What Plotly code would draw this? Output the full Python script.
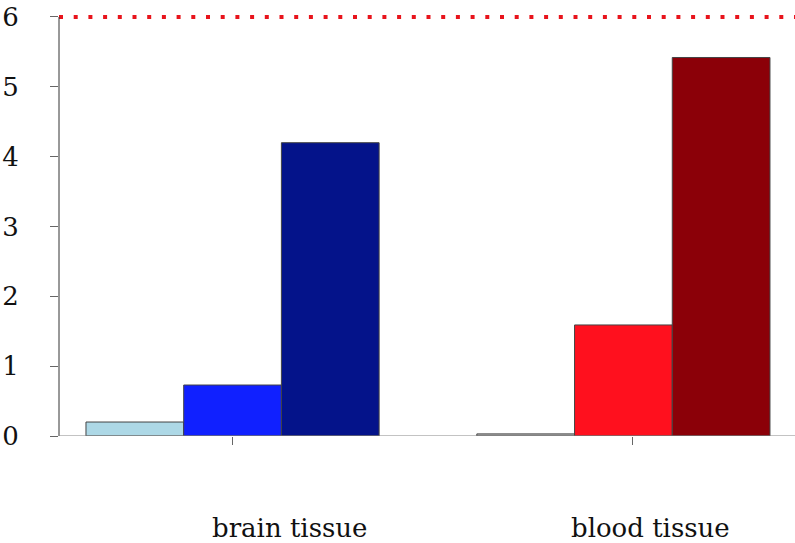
import plotly.graph_objects as go

groups = ["brain tissue", "blood tissue"]
group_pos = [0, 1]
tick_pos = [0, 1.024]
label_pos = [0.145, 1.07]
low = [0.20, 0.03]
mid = [0.73, 1.59]
high = [4.20, 5.42]
low_colors = ["#ADD8E6", "#B8B8B8"]
mid_colors = ["#1020FF", "#FF101E"]
high_colors = ["#04138A", "#8B0008"]
threshold = 6
y_ticks = [0, 1, 2, 3, 4, 5, 6]

FONT = "DejaVu Serif"

fig = go.Figure()
for vals, cols in [(low, low_colors), (mid, mid_colors), (high, high_colors)]:
    fig.add_trace(go.Bar(x=group_pos, y=vals, marker=dict(color=cols, line=dict(color="#444444", width=1)),
                         showlegend=False))

fig.add_shape(type="line", xref="paper", yref="y", x0=0, x1=1, y0=threshold, y1=threshold,
              line=dict(color="#E8141C", width=4, dash="4px,10.7px"))
fig.add_shape(type="line", xref="paper", yref="y", x0=0, x1=0, y0=0, y1=threshold,
              line=dict(color="#333333", width=1))
fig.add_shape(type="line", xref="paper", yref="y", x0=0, x1=1, y0=0, y1=0,
              line=dict(color="#888888", width=1.2))

for name, xp in zip(groups, label_pos):
    fig.add_annotation(x=xp, y=-0.216, xref="x", yref="paper", text=name, showarrow=False,
                       font=dict(family=FONT, size=26, color="#111111"), yanchor="middle")

fig.update_layout(
    width=795, height=543,
    margin=dict(l=59, r=0, t=10, b=107, autoexpand=False),
    paper_bgcolor="white", plot_bgcolor="white",
    barmode="group", bargap=0.25, bargroupgap=0,
    font=dict(family=FONT, size=26, color="#111111"),
    xaxis=dict(range=[-0.444, 1.439], tickvals=tick_pos, ticktext=["", ""], ticks="outside",
               ticklen=8, tickcolor="#666666", showgrid=False, zeroline=False, showline=False,
               automargin=False),
    yaxis=dict(range=[0, 6.1], tickvals=y_ticks, ticks="outside", ticklen=8, tickcolor="#666666",
               showgrid=False, zeroline=False, showline=False, ticklabelstandoff=26,
               automargin=False, tickfont=dict(family=FONT, size=26)),
)

fig.write_html("out.html", config={"displayModeBar": False},
               post_script="document.body.style.margin='0';document.body.style.overflow='hidden';")
